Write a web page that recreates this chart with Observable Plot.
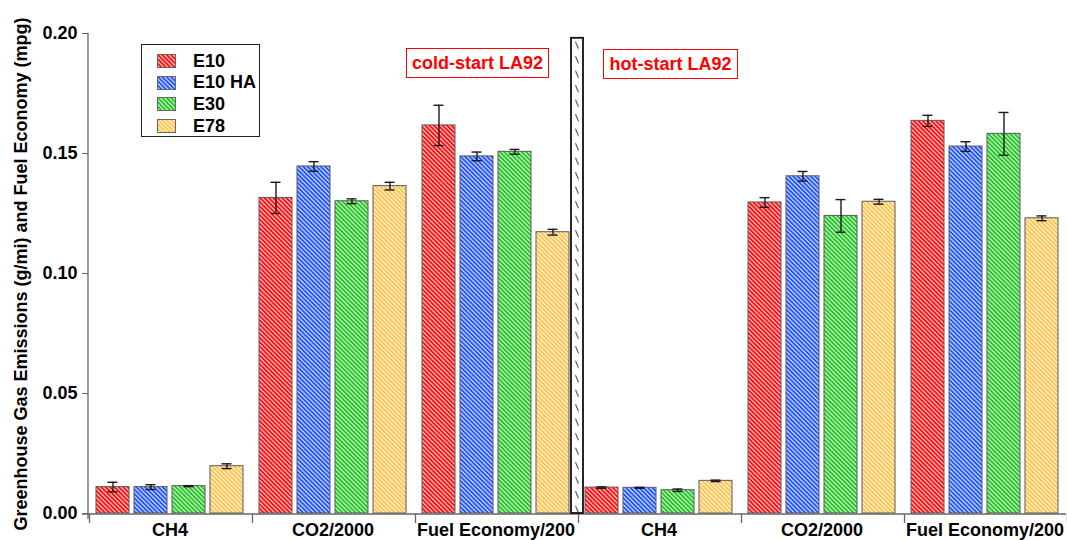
<!DOCTYPE html>
<html>
<head>
<meta charset="utf-8">
<script src="https://cdn.jsdelivr.net/npm/d3@7"></script>
<script src="https://cdn.jsdelivr.net/npm/@observablehq/plot@0.6"></script>
<style>
  body { margin: 0; background: #fff; font-family: "Liberation Sans", Arial, sans-serif; }
  #wrap { position: relative; width: 1067px; height: 540px; overflow: hidden; }
  #defs { position: absolute; width: 0; height: 0; }
  .legend { position: absolute; left: 141px; top: 44px; width: 117px; height: 91px;
            border: 1.6px solid #222; background: #fff; }
  .legend .item { position: absolute; left: 0; height: 22px; display: flex; align-items: center; }
  .legend svg { margin-left: 15px; }
  .legend span { margin-left: 17px; font-weight: bold; font-size: 18px; color: #000; }
  .note { position: absolute; height: 28px; border: 1.6px solid #f00; color: #f00; font-weight: bold;
          font-size: 18px; display: flex; align-items: center; justify-content: center; background: #fff; }
</style>
</head>
<body>
<svg id="defs"><defs></defs></svg>
<div id="wrap"></div>
<script>
// Fuels and their fill colours
const fuels = ["E10", "E10 HA", "E30", "E78"];
const fuelColors = ["#ff0a0a", "#1f52ff", "#1ec41e", "#ffc34d"];

// Test cycles and measured quantities (x-axis groups)
const phases = ["cold-start LA92", "hot-start LA92"];
const quantities = ["CH4", "CO2/2000", "Fuel Economy/200"];

// Means and error half-widths, one value per fuel
const coldCH4 = [0.0110, 0.0110, 0.0114, 0.0197];
const coldCH4Err = [0.0020, 0.0010, 0.0002, 0.0010];
const coldCO2 = [0.1315, 0.1446, 0.1301, 0.1364];
const coldCO2Err = [0.0065, 0.0020, 0.0010, 0.0016];
const coldFE = [0.1617, 0.1488, 0.1507, 0.1172];
const coldFEErr = [0.0084, 0.0018, 0.0010, 0.0012];
const hotCH4 = [0.0108, 0.0107, 0.0097, 0.0136];
const hotCH4Err = [0.0003, 0.0002, 0.0005, 0.0003];
const hotCO2 = [0.1296, 0.1405, 0.1240, 0.1299];
const hotCO2Err = [0.0020, 0.0020, 0.0068, 0.0010];
const hotFE = [0.1636, 0.1529, 0.1582, 0.1230];
const hotFEErr = [0.0023, 0.0020, 0.0089, 0.0010];

// Height of the divider between the two test cycles
const dividerTop = 0.198;

const yTicks = [0, 0.05, 0.10, 0.15, 0.20];
const yLabel = "Greenhouse Gas Emissions (g/mi) and Fuel Economy (mpg)";

const groups = [
  {phase: phases[0], quantity: quantities[0], mean: coldCH4, err: coldCH4Err},
  {phase: phases[0], quantity: quantities[1], mean: coldCO2, err: coldCO2Err},
  {phase: phases[0], quantity: quantities[2], mean: coldFE, err: coldFEErr},
  {phase: phases[1], quantity: quantities[0], mean: hotCH4, err: hotCH4Err},
  {phase: phases[1], quantity: quantities[1], mean: hotCO2, err: hotCO2Err},
  {phase: phases[1], quantity: quantities[2], mean: hotFE, err: hotFEErr}
];
const keyOf = g => g.phase + "|" + g.quantity;
const groupKeys = groups.map(keyOf);
const rows = groups.flatMap(g => fuels.map((f, i) => ({
  key: keyOf(g), fuel: f, value: g.mean[i], err: g.err[i]
})));

// Hatch patterns: white diagonal stripes over each fuel colour
const defs = d3.select("#defs defs");
fuelColors.forEach((c, i) => {
  const p = defs.append("pattern")
    .attr("id", "hatch" + i)
    .attr("patternUnits", "userSpaceOnUse")
    .attr("width", 3.1).attr("height", 3.1)
    .attr("patternTransform", "rotate(-45)");
  p.append("rect").attr("width", 3.1).attr("height", 3.1).attr("fill", c);
  p.append("line").attr("x1", 1.55).attr("x2", 1.55).attr("y1", 0).attr("y2", 3.1)
    .attr("stroke", "#fff").attr("stroke-width", 1.1).attr("stroke-opacity", 0.9);
});

const font = "'Liberation Sans', Arial, sans-serif";
const errStyle = {stroke: "#1a1a1a", strokeWidth: 1.4};

const plot = Plot.plot({
  width: 1067,
  height: 540,
  marginLeft: 88,
  marginRight: 1,
  marginTop: 33,
  marginBottom: 27,
  style: {fontFamily: font, fontSize: "18px", fontWeight: "bold", color: "#000", background: "transparent", overflow: "visible"},
  fx: {domain: groupKeys, padding: 0, axis: "bottom", tickSize: 0, tickPadding: 10,
       tickFormat: k => k.split("|")[1], label: null},
  x: {domain: fuels, paddingInner: 0.13, paddingOuter: 0.2, axis: null},
  y: {domain: [0, 0.2], ticks: yTicks, tickFormat: d3.format(".2f"), tickSize: 6, tickPadding: 5, label: null},
  color: {type: "ordinal", domain: fuels, range: fuels.map((f, i) => `url(#hatch${i})`)},
  marks: [
    Plot.barY(rows, {fx: "key", x: "fuel", y: "value", fill: "fuel", stroke: "#5a5a5a", strokeWidth: 1}),
    Plot.ruleX(rows, {fx: "key", x: "fuel", y1: d => d.value - d.err, y2: d => d.value + d.err, ...errStyle}),
    Plot.tickY(rows, {fx: "key", x: "fuel", y: d => d.value + d.err, insetLeft: 11.5, insetRight: 11.5, ...errStyle}),
    Plot.tickY(rows, {fx: "key", x: "fuel", y: d => d.value - d.err, insetLeft: 11.5, insetRight: 11.5, ...errStyle})
  ]
});

document.getElementById("wrap").appendChild(plot);

// Axis lines, group separators and the cycle divider, placed with the plot's scales
const svg = d3.select(plot);
const fxS = plot.scale("fx");
const yS = plot.scale("y");
const y0 = yS.apply(0);
const yTop = yS.apply(yTicks[yTicks.length - 1]);
const bounds = groupKeys.map(k => fxS.apply(k)).concat([fxS.apply(groupKeys[groupKeys.length - 1]) + fxS.bandwidth]);

svg.selectAll("g[aria-label='y-axis tick'] path, g[aria-label='y-axis tick'] line").attr("stroke", "#666");

const axes = svg.append("g").attr("stroke", "#666").attr("stroke-width", 1.3);
axes.append("line").attr("x1", bounds[0]).attr("x2", bounds[0]).attr("y1", yTop).attr("y2", y0 + 6);
axes.append("line").attr("x1", bounds[0] - 6).attr("x2", bounds[bounds.length - 1]).attr("y1", y0 + 1).attr("y2", y0 + 1);
axes.selectAll(null).data(bounds).join("line")
  .attr("x1", d => d + 1.5).attr("x2", d => d + 1.5).attr("y1", y0 + 1).attr("y2", y0 + 10);

// Divider between cold-start and hot-start cycles
const mid = bounds[3];
const divW = 12;
const divTopY = yS.apply(dividerTop);
const dp = svg.append("defs").append("pattern")
  .attr("id", "dividerHatch")
  .attr("patternUnits", "userSpaceOnUse")
  .attr("x", mid - divW / 2).attr("y", divTopY)
  .attr("width", divW).attr("height", 14.5);
dp.append("rect").attr("width", divW).attr("height", 14.5).attr("fill", "#fff");
dp.append("line").attr("x1", 4.5).attr("y1", 4).attr("x2", 7.5).attr("y2", 11)
  .attr("stroke", "#444").attr("stroke-width", 1.1);
svg.append("rect")
  .attr("x", mid - divW / 2).attr("y", divTopY)
  .attr("width", divW).attr("height", y0 - divTopY)
  .attr("fill", "url(#dividerHatch)").attr("stroke", "#111").attr("stroke-width", 1.8);

// Y-axis title
svg.append("text")
  .attr("transform", `translate(21,${(yTop + y0) / 2 + 1}) rotate(-90)`)
  .attr("text-anchor", "middle").attr("dominant-baseline", "central")
  .attr("font-family", font).attr("font-size", 18).attr("font-weight", "bold")
  .text(yLabel);

// Legend
const wrap = d3.select("#wrap");
const legend = wrap.append("div").attr("class", "legend");
fuels.forEach((f, i) => {
  const item = legend.append("div").attr("class", "item").style("top", (5 + i * 21.7) + "px");
  const sw = item.append("svg").attr("width", 19).attr("height", 14);
  sw.append("rect").attr("x", 0.5).attr("y", 0.5).attr("width", 18).attr("height", 13)
    .attr("fill", `url(#hatch${i})`).attr("stroke", "#666");
  item.append("span").text(f);
});

// Test-cycle labels
wrap.append("div").attr("class", "note")
  .style("left", "406px").style("top", "48px").style("width", "141px").text(phases[0]);
wrap.append("div").attr("class", "note")
  .style("left", "603px").style("top", "49px").style("width", "133px").text(phases[1]);
</script>
</body>
</html>
